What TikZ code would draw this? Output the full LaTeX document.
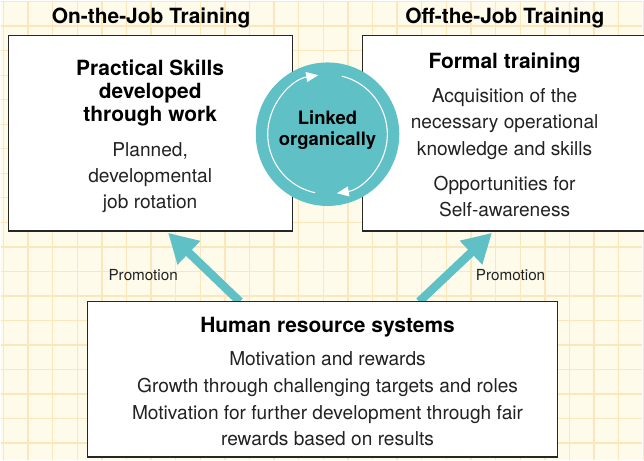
\documentclass[tikz,border=0pt]{standalone}
\usepackage{fontspec}
\setmainfont{TeX Gyre Heros}
\usepackage{tikz}
\usetikzlibrary{positioning, arrows.meta, calc}
\definecolor{paper}{RGB}{255,251,234}
\definecolor{gridline}{RGB}{252,231,188}
\definecolor{linkteal}{RGB}{95,192,198}
\definecolor{bodygray}{RGB}{34,34,34}

\tikzset{
  panel/.style={draw=black!85, line width=1.3bp, fill=white, inner sep=0pt, outer sep=0pt},
  headtxt/.style={font=\bfseries\fontsize{21bp}{23.3bp}\selectfont, align=center, anchor=base, inner sep=0pt},
  bodytxt/.style={font=\fontsize{19.2bp}{26.5bp}\selectfont, text=bodygray, align=center, anchor=base, inner sep=0pt},
  promo/.style={line width=8.5bp, draw=linkteal, -{Triangle[length=29bp,width=31bp]}},
  promolbl/.style={font=\fontsize{15.3bp}{18bp}\selectfont, text=bodygray, anchor=base, inner sep=0pt},
}

\begin{document}
\begin{tikzpicture}[x=1bp, y=1bp]
% graph paper
\fill[paper] (0,0) rectangle (644,461);
\foreach \k in {0,...,26}
  \draw[gridline, line width=1.4bp] ({2.7+24.7*\k},0) -- ++(0,461);
\foreach \k in {0,...,18}
  \draw[gridline, line width=1.4bp] (0,{460-24.6*\k}) -- ++(644,0);
\useasboundingbox (0,0) rectangle (644,461);

% column titles
\node[headtxt] (ojttitle) at (151,437.7) {On-the-Job Training};
\node[headtxt] (offtitle) at (506,437.7) {Off-the-Job Training};

% upper panels
\node[panel, minimum width=285bp, minimum height=196bp] (ojt) at (150.5,328) {};
\node[panel, minimum width=285bp, minimum height=196bp] (off) at (505.5,328) {};

% promotion arrows, then the bottom panel over their feet
\node[panel, minimum width=472bp, minimum height=156bp] (hr) at (323,81) {};
\draw[promo] ($(hr.north)+(-83,0)$) -- ($(ojt.south)+(17.5,-2)$);
\draw[promo] ($(hr.north)+(97,0)$) -- ($(off.south)+(-12.5,-2)$);
\node[panel, minimum width=472bp, minimum height=156bp] at (hr) {};
\node[promolbl] (promoleft) at (143,180) {Promotion};
\node[promolbl] (promoright) at (511.7,180.3) {Promotion};

% link circle with its two turning arrows
\node[circle, fill=linkteal, minimum size=144bp, inner sep=0pt] (link) at (328,327) {};
\draw[white, line width=1.1bp, -{Triangle[length=12bp,width=10bp]}]
  ($(link.center)+(258:60)$) arc[start angle=258, end angle=99, radius=60];
\draw[white, line width=1.1bp, -{Triangle[length=12bp,width=10bp]}]
  ($(link.center)+(76:60)$) arc[start angle=76, end angle=-81, radius=60];
% multi-line nodes sit on the baseline of their last line
\node[font=\bfseries\fontsize{18.5bp}{20.5bp}\selectfont, align=center, anchor=base, inner sep=0pt]
  (linktxt) at (328,316) {Linked\\organically};

% panel texts
\node[headtxt] (ojthead) at (150,339.3) {Practical Skills\\developed\\through work};
\node[bodytxt, font=\fontsize{19.2bp}{26bp}\selectfont] (ojtbody) at (150,252.7) {Planned,\\developmental\\job rotation};

\node[headtxt] (offhead) at (505.7,392.7) {Formal training};
\node[bodytxt] (offbody) at (505.7,306) {Acquisition of the\\necessary operational\\knowledge and skills};
\node[bodytxt] (offself) at (505.7,244.3) {Opportunities for\\Self-awareness};

\node[headtxt] (hrhead) at (328,128.3) {Human resource systems};
\node[bodytxt, font=\fontsize{19.2bp}{26.7bp}\selectfont] (hrbody) at (328,14.3)
  {Motivation and rewards\\Growth through challenging targets and roles\\Motivation for further development through fair\\rewards based on results};
\end{tikzpicture}
\end{document}
